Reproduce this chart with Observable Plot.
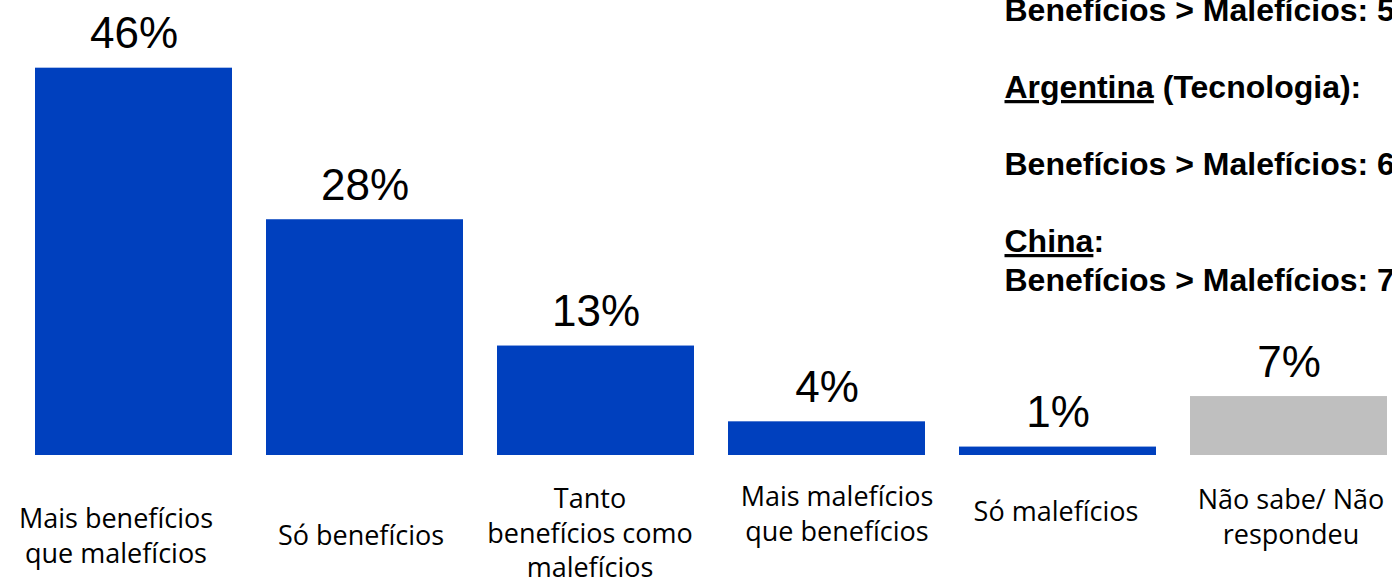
<!DOCTYPE html>
<html>
<head>
<meta charset="utf-8">
<script src="https://cdn.jsdelivr.net/npm/d3@7"></script>
<script src="https://cdn.jsdelivr.net/npm/@observablehq/plot@0.6"></script>
<style>
  html, body { margin: 0; padding: 0; background: #ffffff; overflow: hidden; }
</style>
</head>
<body>
<div id="chart"></div>
<script>
// Data
const categories = [
  "Mais benefícios\nque malefícios",
  "Só benefícios",
  "Tanto\nbenefícios como\nmalefícios",
  "Mais malefícios\nque benefícios",
  "Só malefícios",
  "Não sabe/ Não\nrespondeu"
];
const values = [46, 28, 13, 4, 1, 7];
const valueLabels = ["46%", "28%", "13%", "4%", "1%", "7%"];
const groups = ["resp", "resp", "resp", "resp", "resp", "ns"];
const notes = [
  "Benefícios > Malefícios: 5",
  "",
  "Argentina (Tecnologia):",
  "",
  "Benefícios > Malefícios: 6",
  "",
  "China:",
  "Benefícios > Malefícios: 7"
];

// Layout (label offsets, not data)
const labelDy = [79, 78, 76, 57, 54, 60];
const labelDx = [-18, -4, -6, 10, -2, 2];

const rows = categories.map((c, i) => ({
  cat: c, value: values[i], label: valueLabels[i], group: groups[i], i
}));

const W = 1392, H = 579;

const plot = Plot.plot({
  width: W,
  height: H,
  marginTop: 34,
  marginBottom: 124,
  marginLeft: 0,
  marginRight: 0,
  style: { background: "#ffffff", overflow: "hidden" },
  x: { type: "band", domain: categories, range: [-0.5, 1422.4], padding: 0.149, axis: null },
  y: { domain: [0, 50], axis: null },
  color: { domain: ["resp", "ns"], range: ["#0040BE", "#BFBFBF"] },
  marks: [
    Plot.barY(rows, { x: "cat", y: "value", fill: "group" }),
    Plot.text(rows, {
      x: "cat", y: "value", text: "label",
      lineAnchor: "bottom", dy: -20,
      fontSize: 44, fontFamily: "'Liberation Sans', Arial, sans-serif", fill: "#000"
    }),
    ...rows.map(r => Plot.text([r], {
      x: "cat", text: "cat", frameAnchor: "bottom",
      lineAnchor: "middle", lineHeight: 1.28,
      dy: labelDy[r.i], dx: labelDx[r.i],
      fontSize: 27, fontFamily: "'Open Sans', sans-serif", fill: "#000"
    })),
    Plot.text([notes.join("\n")], {
      frameAnchor: "top-left", textAnchor: "start", lineAnchor: "bottom",
      dx: 1004, dy: 256, lineHeight: 1.203,
      fontSize: 32, fontWeight: "bold",
      fontFamily: "'Liberation Sans', Arial, sans-serif", fill: "#000",
      className: "notes"
    })
  ]
});

// Underline country names inside the notes
d3.select(plot).selectAll("tspan").each(function () {
  const t = d3.select(this);
  const s = t.text();
  const m = s.match(/^(Argentina|China)(.*)$/);
  if (m) {
    t.text(null);
    t.append("tspan").attr("text-decoration", "underline").text(m[1]);
    t.append("tspan").text(m[2]);
  }
});

document.getElementById("chart").appendChild(plot);
</script>
</body>
</html>
